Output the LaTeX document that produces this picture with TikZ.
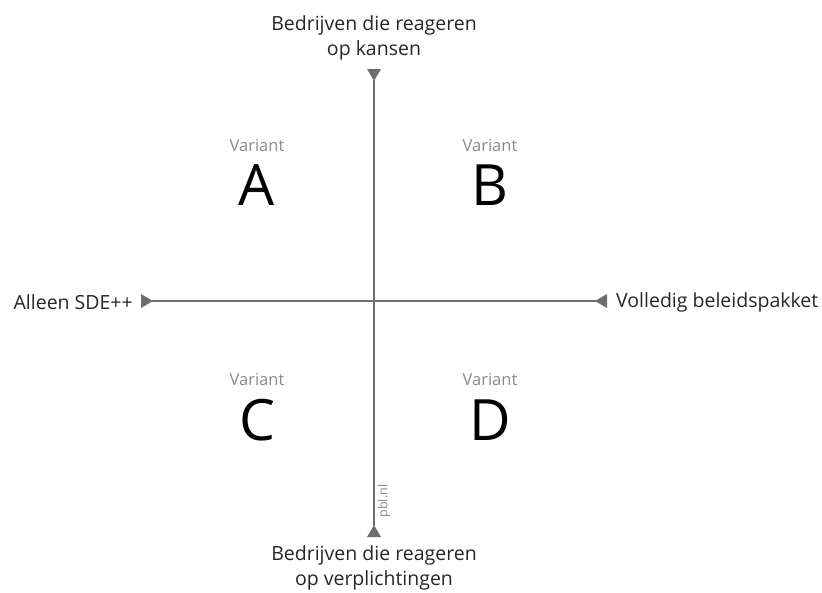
\documentclass[tikz,border=0pt]{standalone}
\usepackage{fontspec}
\setmainfont{Open Sans}
\definecolor{axis}{HTML}{6E6E6E}
\definecolor{lbl}{HTML}{262626}
\definecolor{var}{HTML}{8A8A8A}
\begin{document}
\begin{tikzpicture}[x=1pt,y=-1pt,
  axislabel/.style={text=lbl,font=\fontsize{19.5}{25}\selectfont,align=center,inner sep=0pt},
  varlabel/.style={text=var,font=\fontsize{16.5}{18}\selectfont,inner sep=0pt},
  letter/.style={text=black,font=\fontsize{57}{60}\selectfont,inner sep=0pt},
  tri/.style={fill=axis,draw=none}]
\useasboundingbox (0,0) rectangle (822,592);
% axis ends
\coordinate (T) at (374,69);
\coordinate (Bt) at (374,537);
\coordinate (L) at (141,301);
\coordinate (R) at (607,301);
\draw[axis,line width=1.3pt] (374,80) -- (374,526);
\draw[axis,line width=1.3pt] (152,301) -- (597,301);
\fill[tri] (T) ++(-7,0) -- ++(14,0) -- (374,81) -- cycle;
\fill[tri] (Bt) ++(-7,0) -- ++(14,0) -- (374,525) -- cycle;
\fill[tri] (L) ++(0,-7) -- ++(0,14) -- (153,301) -- cycle;
\fill[tri] (R) ++(0,-7) -- ++(0,14) -- (595,301) -- cycle;
% labels
\node[axislabel] (top) at (374,38) {Bedrijven die reageren\\op kansen};
\node[axislabel] (bot) at (374,568) {Bedrijven die reageren\\op verplichtingen};
\node[axislabel,anchor=east] (left) at (133,302) {Alleen SDE++};
\node[axislabel,anchor=west] (right) at (616,302) {Volledig beleidspakket};
% variants
\node[varlabel] (va) at (257,146) {Variant};
\node[letter] (a) at (257,185) {A};
\node[varlabel] (vb) at (490,146) {Variant};
\node[letter] (b) at (490,185) {B};
\node[varlabel] (vc) at (257,380) {Variant};
\node[letter] (c) at (257,420) {C};
\node[varlabel] (vd) at (490,380) {Variant};
\node[letter] (d) at (490,420) {D};
\node[text=var,font=\fontsize{12.5}{14}\selectfont,rotate=90,inner sep=0pt] (pbl) at (384,501) {pbl.nl};
\end{tikzpicture}
\end{document}
